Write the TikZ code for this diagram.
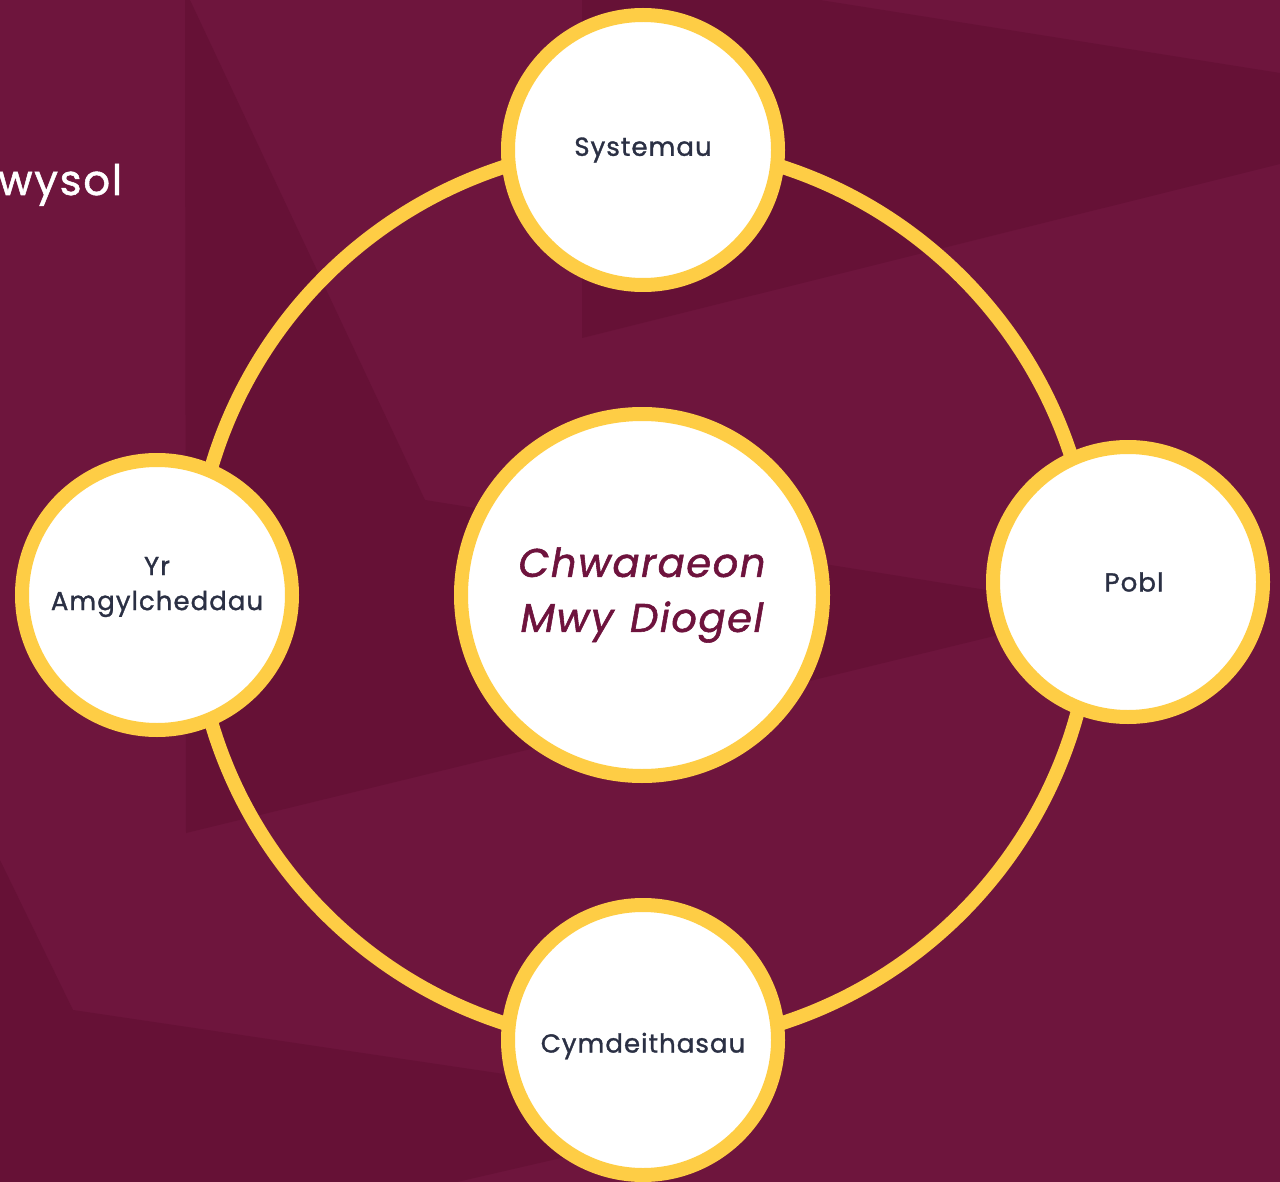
\documentclass[tikz,border=0pt]{standalone}
\usepackage{fontspec}
\setmainfont{Poppins}
\newfontfamily\labelfont[LetterSpace=4, FakeBold=1.2]{Poppins}
\newfontfamily\titlefont[LetterSpace=4, FakeBold=1.4]{Poppins}
\definecolor{bgbase}{HTML}{6E153D}
\definecolor{bgdark}{HTML}{661136}
\definecolor{ringyellow}{HTML}{FECD45}
\definecolor{labelnavy}{HTML}{2B3044}
\definecolor{titlemaroon}{HTML}{6E133D}
\tikzset{
  sat/.style={circle, draw=ringyellow, line width=14pt, fill=white, minimum size=270pt,
    inner sep=0pt, align=center, text=labelnavy, font=\labelfont\fontsize{26}{35}\selectfont},
  hubnode/.style={sat, minimum size=362pt, text=titlemaroon,
    font=\titlefont\fontsize{40}{55}\selectfont\itshape},
  ring/.style={draw=ringyellow, line width=14pt}
}
\begin{document}
\begin{tikzpicture}[x=1pt,y=-1pt]
  \useasboundingbox (0,0) rectangle (1280,1182);
  % background panels
  \fill[bgbase] (0,0) rectangle (1280,1182);
  \fill[bgdark] (185,0) -- (190,0) -- (425,500) -- (1105,609) -- (186,833) -- cycle;
  \fill[bgdark] (582,0) -- (820,0) -- (1280,73) -- (1280,164) -- (582,338) -- cycle;
  \fill[bgdark] (0,860) -- (73,1010) -- (760,1112) -- (457,1182) -- (0,1182) -- cycle;
  \node[anchor=base west, inner sep=0pt, text=white, font=\labelfont\fontsize{42}{42}\selectfont] (heading) at (-2,195) {wysol};
  % ring
  \coordinate (hub) at (643,595);
  \draw[ring] (hub) circle[radius=450];
  % nodes
  \node[hubnode] (centre) at (642,595) {Chwaraeon\\Mwy\hspace{3pt} Diogel};
  \node[sat] (sys) at (643,150) {Systemau};
  \node[sat] (pobl) at (1128,582) {\hspace{12pt}Pobl};
  \node[sat] (cym) at (643,1040) {\raisebox{-6pt}[\height][\depth]{Cymdeithasau}};
  \node[sat] (amg) at (157,595) {Yr\\Amgylcheddau\\[-12pt]};
\end{tikzpicture}
\end{document}
